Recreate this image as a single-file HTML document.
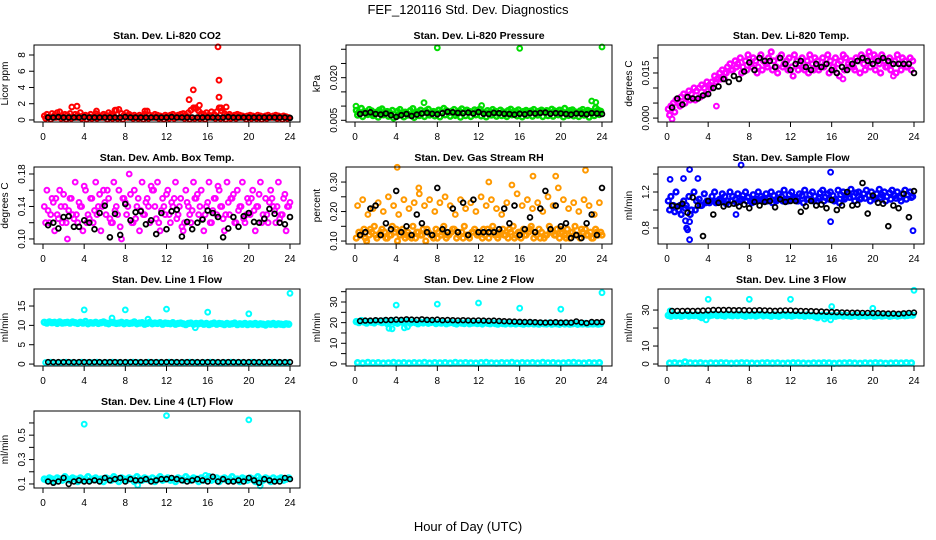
<!DOCTYPE html>
<html><head><meta charset="utf-8">
<style>
html,body{margin:0;padding:0;background:#fff;}
svg{display:block;font-family:"Liberation Sans",Arial,sans-serif;}
</style></head>
<body>
<svg id="chart" width="936" height="540" viewBox="0 0 936 540">
<text x="468" y="14" text-anchor="middle" font-size="13">FEF_120116  Std. Dev. Diagnostics</text>
<text x="468" y="531" text-anchor="middle" font-size="13">Hour of Day (UTC)</text>
</svg>
<script>
// ---------- data ----------
const hourTicks = [0,4,8,12,16,20,24];

const co2Red = [0.5,0.7,0.4,0.8,0.6,0.9,1.0,0.5,0.7,0.6,0.8,0.4,0.7,0.6,0.9,0.5,0.6,0.5,0.7,0.4,0.8,0.6,0.5,0.7,0.6,0.9,0.7,0.5,1.2,1.3,0.8,0.6,0.9,0.7,0.5,0.6,0.4,0.6,0.5,0.7,1.1,0.6,0.5,0.7,0.6,0.5,0.4,0.6,0.5,0.6,0.7,0.5,0.6,0.7,0.8,0.6,0.9,1.2,1.5,1.4,1.1,0.8,0.7,0.9,0.6,1.0,0.7,1.0,1.5,1.1,0.8,0.6,0.7,0.5,0.6,0.7,0.6,0.5,0.4,0.5,0.6,0.5,0.4,0.6,0.5,0.4,0.5,0.6,0.4,0.5,0.6,0.5,0.4,0.5,0.4,0.3];
const co2RedLow = [0.2,0.1,0.3,0.2,0.1,0.2,0.3,0.2,0.1,0.2,0.2,0.3,0.1,0.2,0.2,0.1,0.3,0.2,0.2,0.1,0.2,0.3,0.2,0.1,0.2,0.2,0.3,0.2,0.1,0.2,0.2,0.1,0.3,0.2,0.2,0.1,0.2,0.2,0.3,0.1,0.2,0.2,0.1,0.2,0.3,0.2,0.1,0.2];
const co2OutHours = [2.8,3.3,14.2,14.6,14.8,15.2,17.0,17.1,17.1,17.3,17.8,5.2,7.0,9.9];
const co2OutVals = [1.6,1.7,2.5,3.7,1.5,1.8,9.0,4.9,2.8,1.5,1.6,1.1,1.2,1.1];
const co2Black = [0.3,0.3,0.35,0.3,0.3,0.3,0.3,0.35,0.3,0.3,0.3,0.3,0.3,0.3,0.3,0.35,0.3,0.3,0.3,0.3,0.3,0.3,0.3,0.3,0.35,0.3,0.3,0.3,0.3,0.3,0.3,0.3,0.3,0.3,0.3,0.35,0.3,0.3,0.3,0.3,0.3,0.3,0.3,0.3,0.3,0.3,0.3,0.25];

const presGreen = [0.0085,0.0078,0.0092,0.0081,0.0075,0.0088,0.0083,0.0072,0.0079,0.0086,0.0090,0.0074,0.0081,0.0077,0.0085,0.0070,0.0082,0.0088,0.0076,0.0079,0.0068,0.0084,0.0091,0.0073,0.0080,0.0086,0.0077,0.0083,0.0089,0.0075,0.0081,0.0078,0.0086,0.0079,0.0092,0.0084,0.0077,0.0082,0.0088,0.0075,0.0083,0.0090,0.0079,0.0086,0.0081,0.0077,0.0087,0.0083,0.0089,0.0080,0.0076,0.0084,0.0079,0.0088,0.0082,0.0075,0.0086,0.0080,0.0073,0.0084,0.0089,0.0078,0.0082,0.0087,0.0076,0.0081,0.0085,0.0079,0.0083,0.0088,0.0076,0.0082,0.0086,0.0080,0.0084,0.0077,0.0089,0.0083,0.0079,0.0086,0.0081,0.0092,0.0078,0.0084,0.0087,0.0080,0.0076,0.0083,0.0088,0.0079,0.0085,0.0081,0.0077,0.0094,0.0086,0.0082];
const presGreenLow = [0.0068,0.0063,0.0070,0.0066,0.0061,0.0069,0.0064,0.0058,0.0067,0.0062,0.0070,0.0060,0.0066,0.0063,0.0068,0.0065,0.0062,0.0069,0.0064,0.0067,0.0061,0.0066,0.0063,0.0069,0.0065,0.0062,0.0068,0.0064,0.0066,0.0063,0.0069,0.0065,0.0062,0.0067,0.0064,0.0068,0.0063,0.0066,0.0064,0.0069,0.0062,0.0067,0.0065,0.0063,0.0068,0.0061,0.0066,0.0070];
const presOutHours = [8.0,16.0,24.0,0.1,6.7,12.3,23.0,23.4];
const presOutVals = [0.0305,0.0303,0.0308,0.0100,0.0112,0.0102,0.0118,0.0113];
const presBlack = [0.0072,0.0075,0.0078,0.0072,0.0070,0.0074,0.0068,0.0062,0.0068,0.0072,0.0065,0.0070,0.0074,0.0076,0.0073,0.0071,0.0075,0.0080,0.0078,0.0076,0.0075,0.0077,0.0074,0.0079,0.0073,0.0072,0.0076,0.0075,0.0073,0.0072,0.0070,0.0073,0.0071,0.0075,0.0074,0.0076,0.0077,0.0073,0.0075,0.0074,0.0072,0.0070,0.0074,0.0073,0.0071,0.0075,0.0074,0.0072];

const tempMag = [0.003,0.004,0.005,0.006,0.005,0.007,0.008,0.007,0.009,0.008,0.010,0.009,0.010,0.011,0.010,0.012,0.011,0.012,0.014,0.013,0.015,0.016,0.015,0.017,0.018,0.016,0.019,0.018,0.020,0.017,0.019,0.021,0.018,0.020,0.019,0.017,0.021,0.019,0.018,0.020,0.022,0.019,0.017,0.020,0.021,0.018,0.019,0.020,0.017,0.021,0.019,0.018,0.020,0.016,0.019,0.021,0.018,0.020,0.019,0.017,0.020,0.018,0.021,0.019,0.017,0.020,0.018,0.019,0.021,0.020,0.018,0.019,0.017,0.020,0.019,0.021,0.018,0.020,0.022,0.019,0.021,0.020,0.018,0.021,0.019,0.017,0.020,0.018,0.019,0.021,0.018,0.020,0.019,0.017,0.020,0.019];
const tempMagLow = [0.001,0.002,0.004,0.005,0.006,0.006,0.007,0.008,0.010,0.012,0.013,0.015,0.016,0.017,0.015,0.016,0.017,0.015,0.016,0.017,0.016,0.015,0.017,0.016,0.014,0.016,0.017,0.015,0.016,0.016,0.017,0.015,0.016,0.014,0.016,0.017,0.016,0.015,0.016,0.017,0.016,0.015,0.017,0.016,0.015,0.016,0.017,0.016];
const tempOutHours = [0.5,4.8,5.6,17.1,22.0];
const tempOutVals = [-0.0003,0.004,0.013,0.013,0.014];
const tempBlack = [0.0035,0.0065,0.0045,0.007,0.0065,0.0065,0.0075,0.008,0.010,0.0105,0.013,0.012,0.014,0.013,0.0155,0.0185,0.016,0.020,0.019,0.019,0.017,0.020,0.018,0.016,0.018,0.019,0.017,0.016,0.018,0.017,0.018,0.016,0.015,0.017,0.016,0.018,0.019,0.020,0.019,0.018,0.019,0.020,0.019,0.018,0.018,0.018,0.018,0.015];

const ambMag = [0.14,0.16,0.12,0.15,0.11,0.13,0.16,0.12,0.14,0.10,0.15,0.13,0.17,0.12,0.14,0.11,0.16,0.13,0.15,0.12,0.17,0.14,0.11,0.16,0.13,0.15,0.12,0.17,0.14,0.16,0.10,0.15,0.13,0.18,0.12,0.16,0.14,0.11,0.17,0.13,0.15,0.12,0.16,0.14,0.17,0.11,0.15,0.13,0.16,0.12,0.14,0.17,0.13,0.15,0.11,0.16,0.14,0.12,0.17,0.15,0.13,0.16,0.11,0.14,0.17,0.12,0.15,0.13,0.16,0.14,0.11,0.17,0.13,0.15,0.12,0.16,0.14,0.17,0.12,0.15,0.13,0.16,0.11,0.14,0.17,0.13,0.15,0.12,0.16,0.14,0.12,0.17,0.13,0.15,0.11,0.14];
const ambMag2 = [0.12,0.13,0.15,0.14,0.12,0.15,0.13,0.14,0.12,0.15,0.13,0.14,0.16,0.12,0.13,0.15,0.14,0.12,0.15,0.13,0.14,0.16,0.12,0.14,0.13,0.15,0.14,0.12,0.13,0.15,0.14,0.13,0.12,0.15,0.14,0.13,0.15,0.12,0.14,0.13,0.15,0.14,0.12,0.13,0.15,0.14,0.13,0.14];
const ambMag3 = [0.135,0.145,0.125,0.155,0.135,0.125,0.145,0.165,0.125,0.135,0.155,0.145,0.125,0.135,0.115,0.145,0.155,0.125,0.135,0.145,0.165,0.125,0.135,0.155,0.145,0.125,0.115,0.145,0.135,0.155,0.125,0.145,0.135,0.165,0.125,0.145,0.155,0.135,0.125,0.145,0.135,0.155,0.125,0.145,0.135,0.125,0.155,0.145];
const ambBlack = [0.117,0.120,0.113,0.127,0.128,0.115,0.115,0.123,0.120,0.112,0.132,0.141,0.102,0.131,0.105,0.143,0.123,0.133,0.134,0.118,0.123,0.106,0.132,0.112,0.134,0.136,0.103,0.121,0.112,0.120,0.124,0.135,0.132,0.127,0.102,0.113,0.127,0.115,0.128,0.132,0.121,0.120,0.125,0.137,0.131,0.120,0.118,0.127];

const rhLow = [0.11,0.13,0.12,0.14,0.10,0.12,0.13,0.15,0.11,0.12,0.14,0.13,0.11,0.12,0.15,0.13,0.10,0.12,0.14,0.11,0.13,0.12,0.15,0.11,0.13,0.12,0.14,0.10,0.13,0.12,0.11,0.14,0.13,0.12,0.15,0.11,0.12,0.13,0.14,0.11,0.12,0.13,0.15,0.12,0.11,0.13,0.14,0.12,0.13,0.11,0.12,0.14,0.13,0.15,0.12,0.11,0.13,0.14,0.12,0.11,0.13,0.15,0.12,0.13,0.11,0.14,0.12,0.13,0.15,0.11,0.12,0.14,0.13,0.11,0.12,0.15,0.13,0.12,0.14,0.11,0.13,0.12,0.14,0.11,0.13,0.15,0.12,0.11,0.13,0.14,0.12,0.13,0.11,0.14,0.12,0.13];
const rhLow2 = [0.12,0.11,0.14,0.12,0.13,0.11,0.12,0.14,0.13,0.12,0.11,0.13,0.12,0.14,0.12,0.11,0.13,0.12,0.14,0.13,0.11,0.12,0.13,0.12,0.14,0.11,0.13,0.12,0.12,0.14,0.11,0.13,0.12,0.14,0.13,0.11,0.12,0.13,0.12,0.14,0.11,0.13,0.12,0.14,0.12,0.11,0.13,0.12];
const rhHigh = [0.22,0.24,0.19,0.21,0.23,0.20,0.25,0.22,0.19,0.24,0.21,0.23,0.26,0.22,0.24,0.20,0.23,0.25,0.22,0.19,0.24,0.21,0.23,0.20,0.25,0.22,0.24,0.21,0.19,0.23,0.29,0.26,0.22,0.24,0.21,0.23,0.20,0.25,0.22,0.28,0.24,0.21,0.23,0.20,0.24,0.22,0.19,0.23];
const rhOutHours = [4.1,17.3,22.4,19.5,6.2,13.0];
const rhOutVals = [0.35,0.32,0.34,0.32,0.28,0.30];
const rhBlack = [0.12,0.13,0.21,0.22,0.12,0.16,0.14,0.27,0.13,0.15,0.12,0.19,0.16,0.13,0.12,0.28,0.14,0.13,0.21,0.13,0.23,0.12,0.24,0.13,0.13,0.13,0.13,0.14,0.21,0.16,0.22,0.12,0.14,0.18,0.13,0.21,0.27,0.14,0.22,0.15,0.16,0.11,0.12,0.11,0.16,0.19,0.12,0.28];

const flowBlue = [1.1,1.15,1.05,1.2,1.0,0.95,1.1,1.05,1.15,1.0,1.2,1.1,1.12,1.05,1.18,1.1,1.08,1.15,1.2,1.1,1.12,1.18,1.15,1.1,1.2,1.15,1.12,1.18,1.1,1.16,1.2,1.14,1.1,1.17,1.12,1.2,1.15,1.1,1.18,1.13,1.2,1.16,1.1,1.18,1.15,1.22,1.12,1.17,1.2,1.14,1.1,1.18,1.16,1.22,1.12,1.17,1.2,1.15,1.1,1.19,1.22,1.14,1.18,1.2,1.16,1.12,1.22,1.17,1.2,1.14,1.18,1.23,1.15,1.19,1.2,1.13,1.18,1.22,1.16,1.2,1.14,1.18,1.23,1.17,1.2,1.15,1.19,1.22,1.16,1.2,1.14,1.18,1.22,1.17,1.2,1.15];
const flowBlueLow = [1.0,0.98,1.05,1.02,0.95,1.0,1.05,1.08,1.1,1.08,1.1,1.07,1.1,1.08,1.12,1.1,1.08,1.1,1.12,1.1,1.08,1.12,1.1,1.1,1.12,1.1,1.08,1.12,1.1,1.13,1.1,1.12,1.1,1.08,1.12,1.14,1.1,1.12,1.13,1.1,1.12,1.14,1.1,1.12,1.13,1.1,1.12,1.14];
const flowOutHours = [2.2,2.0,1.9,2.2,7.2,0.3,1.6,3.0,15.9,15.9,23.9,1.8,2.2,6.7];
const flowOutVals = [0.67,0.78,0.8,1.45,1.5,1.34,1.35,1.35,1.42,0.87,0.77,0.88,0.87,0.95];
const flowBlack = [1.05,1.04,1.07,0.97,1.14,1.05,0.71,1.1,0.95,1.08,1.04,1.06,1.07,1.04,1.06,1.02,1.09,1.05,1.09,1.1,1.03,1.12,1.09,1.1,1.1,0.98,1.04,1.1,1.05,1.06,1.02,1.11,1.0,1.05,1.2,1.05,1.06,1.3,0.96,1.16,1.08,1.07,0.82,1.05,1.02,1.18,0.92,1.21];

const l1High = [10.8,10.6,10.9,10.7,10.8,10.5,10.9,10.6,10.7,10.8,10.6,10.9,10.7,10.5,10.8,10.6,11.0,10.4,10.7,10.6,10.8,10.5,10.7,10.9,10.6,10.4,10.8,10.7,10.5,10.6,10.8,10.4,10.7,10.5,10.6,10.9,10.4,10.6,10.7,10.3,10.5,10.8,10.4,10.6,10.5,10.7,10.3,10.6,10.5,10.4,10.7,10.3,10.5,10.6,10.4,10.2,10.5,10.6,10.3,10.5,10.4,10.6,10.3,10.5,10.2,10.4,10.6,10.3,10.5,10.4,10.2,10.5,10.3,10.4,10.6,10.2,10.4,10.3,10.5,10.2,10.4,10.3,10.5,10.2,10.4,10.3,10.1,10.4,10.3,10.5,10.2,10.4,10.3,10.2,10.4,10.3];
const l1Low = [0.4,0.5,0.3,0.4,0.5,0.4,0.3,0.5,0.4,0.4,0.5,0.3,0.4,0.5,0.4,0.3,0.4,0.5,0.4,0.3,0.5,0.4,0.4,0.3,0.5,0.4,0.3,0.4,0.5,0.4,0.3,0.4,0.5,0.4,0.3,0.4,0.5,0.4,0.4,0.3,0.5,0.4,0.3,0.4,0.5,0.4,0.3,0.4];
const l1OutHours = [4.0,8.0,12.0,16.0,20.0,24.0,6.7,10.2,14.8];
const l1OutVals = [14.0,14.0,14.2,13.4,13.0,18.3,11.9,11.6,9.4];
const l1Black = [0.5,0.5,0.5,0.5,0.5,0.5,0.5,0.5,0.5,0.5,0.5,0.5,0.5,0.5,0.5,0.5,0.5,0.5,0.5,0.5,0.5,0.5,0.5,0.5,0.5,0.5,0.5,0.5,0.5,0.5,0.5,0.5,0.5,0.5,0.5,0.5,0.5,0.5,0.5,0.5,0.5,0.5,0.5,0.5,0.5,0.5,0.5,0.5];

const l2High = [20.5,20.0,21.0,20.3,19.8,20.6,20.2,19.9,20.7,20.4,20.0,20.8,19.6,20.3,20.9,20.1,19.7,20.5,20.2,20.0,20.6,19.8,20.3,20.0,19.5,20.2,19.9,20.4,19.7,20.1,20.3,19.6,20.0,19.8,20.2,19.5,19.9,20.1,19.7,19.4,20.0,19.8,19.6,20.1,19.5,19.8,19.9,19.6,19.8,19.4,20.0,19.7,19.5,19.9,19.6,19.3,19.8,19.6,19.4,19.9,19.5,19.7,19.4,19.8,19.6,19.3,19.7,19.5,19.8,19.4,19.6,19.3,19.7,19.5,19.4,19.8,19.3,19.6,19.5,19.2,19.7,19.4,19.6,19.3,19.5,19.7,19.2,19.5,19.4,19.6,19.3,19.5,19.4,19.6,19.3,19.5];
const l2Low = [0.6,0.4,0.7,0.5,0.6,0.4,0.5,0.7,0.5,0.6,0.4,0.6,0.5,0.7,0.4,0.6,0.5,0.6,0.4,0.7,0.5,0.6,0.5,0.4,0.6,0.7,0.5,0.4,0.6,0.5,0.7,0.4,0.6,0.5,0.6,0.4,0.7,0.5,0.6,0.4,0.5,0.6,0.7,0.5,0.4,0.6,0.5,0.6];
const l2OutHours = [4.0,8.0,12.0,16.0,20.0,24.0,3.3,3.6,4.8,5.1];
const l2OutVals = [28.5,29.0,29.5,27.0,26.5,34.5,17.2,17.0,17.5,18.0];
const l2Black = [20.8,21.0,21.0,21.2,21.1,21.3,21.3,21.5,21.4,21.6,21.5,21.4,21.6,21.4,21.3,21.5,21.2,21.3,21.2,21.1,21.2,21.1,21.0,21.1,21.0,20.9,21.0,20.8,20.7,20.6,20.5,20.4,20.3,20.3,20.2,20.1,20.0,20.1,20.2,20.0,20.1,20.0,20.6,20.1,19.8,20.3,20.2,20.3];

const l3High = [27.0,26.5,27.5,26.8,27.2,26.6,27.0,27.4,26.7,27.1,26.9,27.3,26.5,25.8,27.0,27.4,26.8,27.2,27.6,26.9,27.3,27.0,26.7,27.5,27.1,26.8,27.3,26.9,27.6,27.0,26.6,27.2,26.9,27.4,26.7,27.1,27.5,26.8,27.2,27.0,26.6,27.3,26.9,26.5,27.2,27.4,26.8,27.1,26.7,27.0,27.3,26.9,27.1,26.6,27.2,26.8,27.0,26.4,25.8,26.9,27.2,26.7,27.0,26.8,27.1,26.6,26.9,27.2,26.7,27.0,26.8,26.5,26.9,27.1,26.6,26.9,27.0,26.7,26.9,27.1,26.6,26.8,27.0,26.7,26.9,27.1,26.6,26.8,27.0,26.7,26.9,27.2,26.8,27.0,27.3,27.1];
const l3Low = [0.5,0.7,0.4,1.2,0.6,0.5,0.7,0.4,0.6,0.5,0.7,0.6,0.4,0.5,0.7,0.6,0.5,0.4,0.6,0.7,0.5,0.6,0.4,0.5,0.7,0.6,0.5,0.4,0.6,0.5,0.7,0.6,0.4,0.5,0.6,0.7,0.5,0.4,0.6,0.5,0.7,0.6,0.4,0.5,0.6,0.5,0.7,0.6];
const l3OutHours = [4.0,8.0,12.0,16.0,20.0,24.0,0.3,3.8,15.3,15.9];
const l3OutVals = [36.0,36.0,36.0,32.0,31.0,41.0,29.5,24.5,25.0,24.5];
const l3Black = [29.5,29.5,29.5,29.6,29.5,29.6,29.7,29.8,30.0,30.0,30.0,30.0,29.9,29.9,29.9,29.8,29.8,29.9,29.8,29.7,29.6,29.7,29.8,29.8,29.6,29.5,29.4,29.4,29.3,29.2,29.0,28.9,28.8,28.7,28.6,28.5,28.5,28.4,28.4,28.3,28.3,28.2,28.0,28.1,27.9,28.2,28.4,28.6];

const l4Cyan = [0.14,0.13,0.15,0.14,0.12,0.15,0.14,0.13,0.16,0.14,0.13,0.15,0.14,0.12,0.15,0.13,0.14,0.16,0.13,0.14,0.15,0.13,0.14,0.12,0.15,0.14,0.13,0.16,0.14,0.12,0.15,0.14,0.13,0.15,0.14,0.12,0.16,0.14,0.13,0.15,0.14,0.13,0.15,0.12,0.14,0.16,0.13,0.14,0.15,0.13,0.14,0.12,0.15,0.14,0.13,0.16,0.14,0.13,0.15,0.14,0.12,0.15,0.13,0.14,0.16,0.13,0.14,0.15,0.12,0.14,0.15,0.13,0.14,0.16,0.13,0.14,0.12,0.15,0.14,0.13,0.15,0.14,0.12,0.16,0.14,0.13,0.15,0.14,0.12,0.15,0.13,0.14,0.15,0.13,0.14,0.15];
const l4OutHours = [4.0,12.0,20.0,9.2,21.1,15.8];
const l4OutVals = [0.59,0.66,0.625,0.09,0.085,0.17];
const l4Black = [0.12,0.11,0.12,0.15,0.10,0.12,0.13,0.12,0.12,0.13,0.12,0.15,0.13,0.14,0.15,0.12,0.14,0.13,0.13,0.14,0.12,0.13,0.14,0.14,0.15,0.14,0.13,0.12,0.13,0.14,0.13,0.12,0.16,0.12,0.14,0.12,0.12,0.13,0.12,0.15,0.13,0.11,0.14,0.13,0.12,0.12,0.15,0.14];

// ---------- drawing ----------
const NS = 'http://www.w3.org/2000/svg';
const svg = document.getElementById('chart');
function mk(tag, attrs, parent){
  const e = document.createElementNS(NS, tag);
  for (const k in attrs) e.setAttribute(k, attrs[k]);
  (parent || svg).appendChild(e);
  return e;
}
function gridHours(n){ const a=[]; for(let i=0;i<n;i++) a.push(24*(i+0.5)/n); return a; }
function halfHours(n){ const a=[]; for(let i=0;i<n;i++) a.push(0.5*(i+1)); return a; }

function panel(p){
  const bx = 34 + 312*p.col, by = 45 + 122*p.row, bw = 266, bh = 77;
  const g = mk('g', {});
  
  
  const xs = h => bx + 9 + h*(247/24);
  const ys = v => by + (p.ymax - v)/(p.ymax - p.ymin)*bh;
  const t = mk('text', {x: bx+bw/2, y: by-6, 'text-anchor':'middle', 'font-size':'10.5', 'font-weight':'bold'}, g);
  t.textContent = p.title;
  
  
  p.series.forEach(s => {
    const sg = mk('g', {fill:'none', stroke:s.color, 'stroke-width': s.sw || 2}, g);
    
    
    s.vals.forEach((v,i) => {
      const c = mk('circle', {cx: xs(s.hours[i]).toFixed(1), cy: ys(v).toFixed(1), r: 2.4}, sg);
      
      
    });
  });
  const box = mk('rect', {x:bx, y:by, width:bw, height:bh, fill:'none', stroke:'#000', 'stroke-width':1}, g);
  
  
  const xa = mk('g', {}, g);
  
  
  hourTicks.forEach(h => {
    mk('line', {x1:xs(h), x2:xs(h), y1:by+bh, y2:by+bh+5, stroke:'#000'}, xa);
    const tl = mk('text', {x:xs(h), y:by+bh+18, 'text-anchor':'middle', 'font-size':'10'}, xa);
    tl.textContent = h;
    
    
  });
  const ya = mk('g', {}, g);
  
  
  mk('line', {x1:bx, x2:bx, y1:ys(p.ticks[0]), y2:ys(p.ticks[p.ticks.length-1]), stroke:'#000'}, ya);
  p.ticks.forEach(v => {
    mk('line', {x1:bx-5, x2:bx, y1:ys(v), y2:ys(v), stroke:'#000'}, ya);
  });
  p.labels.forEach(v => {
    const yy = ys(v), xx = bx-9;
    const tl = mk('text', {x:xx, y:yy, 'text-anchor':'middle', 'font-size':'10', transform:`rotate(-90 ${xx} ${yy})`}, ya);
    tl.textContent = p.fmt ? v.toFixed(p.fmt) : v;
    
    
  });
  const yl = bx-26, ym = by+bh/2;
  const yt = mk('text', {x:yl, y:ym, 'text-anchor':'middle', 'font-size':'10', transform:`rotate(-90 ${yl} ${ym})`}, ya);
  yt.textContent = p.ylab;
  
  
}

const H96 = gridHours(96), H48 = gridHours(48), B48 = halfHours(48);
const RED='#ff0000', GRN='#00dd00', MAG='#ff00ff', BLU='#0000ff', ORG='#ff9900', CYN='#00ffff', BLK='#000000';

panel({row:0,col:0,name:'panel-co2',title:'Stan. Dev. Li-820 CO2',ylab:'Licor ppm',ymin:-0.25,ymax:9.23,ticks:[0,2,4,6,8],labels:[0,2,4,6,8],
  series:[{name:'co2-series',color:RED,hours:H96,vals:co2Red},{name:'co2-series-low',color:RED,hours:H48,vals:co2RedLow},{name:'co2-outliers',color:RED,hours:co2OutHours,vals:co2OutVals},{name:'co2-half-hour',color:BLK,hours:B48,vals:co2Black,sw:1.8}]});
panel({row:0,col:1,name:'panel-pressure',title:'Stan. Dev. Li-820 Pressure',ylab:'kPa',ymin:0.0044,ymax:0.0315,fmt:3,ticks:[0.005,0.010,0.015,0.020,0.025,0.030],labels:[0.005,0.020],
  series:[{name:'pressure-series',color:GRN,hours:H96,vals:presGreen,sw:2.4},{name:'pressure-series-low',color:GRN,hours:H48,vals:presGreenLow,sw:2.4},{name:'pressure-outliers',color:GRN,hours:presOutHours,vals:presOutVals},{name:'pressure-half-hour',color:BLK,hours:B48,vals:presBlack,sw:1.8}]});
panel({row:0,col:2,name:'panel-temp',title:'Stan. Dev. Li-820 Temp.',ylab:'degrees C',ymin:-0.0013,ymax:0.0243,fmt:3,ticks:[0,0.005,0.010,0.015,0.020],labels:[0,0.015],
  series:[{name:'temp-series',color:MAG,hours:H96,vals:tempMag,sw:2.4},{name:'temp-series-low',color:MAG,hours:H48,vals:tempMagLow,sw:2.4},{name:'temp-outliers',color:MAG,hours:tempOutHours,vals:tempOutVals},{name:'temp-half-hour',color:BLK,hours:B48,vals:tempBlack,sw:1.8}]});
panel({row:1,col:0,name:'panel-amb-box-temp',title:'Stan. Dev. Amb. Box Temp.',ylab:'degrees C',ymin:0.0938,ymax:0.1886,fmt:2,ticks:[0.10,0.12,0.14,0.16,0.18],labels:[0.10,0.14,0.18],
  series:[{name:'amb-series',color:MAG,hours:H96,vals:ambMag},{name:'amb-series-2',color:MAG,hours:H48,vals:ambMag2},{name:'amb-series-3',color:MAG,hours:B48,vals:ambMag3},{name:'amb-half-hour',color:BLK,hours:B48,vals:ambBlack,sw:1.8}]});
panel({row:1,col:1,name:'panel-gas-rh',title:'Stan. Dev. Gas Stream RH',ylab:'percent',ymin:0.090,ymax:0.351,fmt:2,ticks:[0.10,0.15,0.20,0.25,0.30],labels:[0.10,0.20,0.30],
  series:[{name:'rh-low-series',color:ORG,hours:H96,vals:rhLow,sw:2.4},{name:'rh-low-series-2',color:ORG,hours:B48,vals:rhLow2,sw:2.4},{name:'rh-high-series',color:ORG,hours:H48,vals:rhHigh},{name:'rh-outliers',color:ORG,hours:rhOutHours,vals:rhOutVals},{name:'rh-half-hour',color:BLK,hours:B48,vals:rhBlack,sw:1.8}]});
panel({row:1,col:2,name:'panel-sample-flow',title:'Stan. Dev. Sample Flow',ylab:'ml/min',ymin:0.622,ymax:1.478,fmt:1,ticks:[0.8,1.0,1.2,1.4],labels:[0.8,1.2],
  series:[{name:'flow-series',color:BLU,hours:H96,vals:flowBlue,sw:2.4},{name:'flow-series-low',color:BLU,hours:H48,vals:flowBlueLow,sw:2.4},{name:'flow-outliers',color:BLU,hours:flowOutHours,vals:flowOutVals},{name:'flow-half-hour',color:BLK,hours:B48,vals:flowBlack,sw:1.8}]});
panel({row:2,col:0,name:'panel-line1',title:'Stan. Dev. Line 1 Flow',ylab:'ml/min',ymin:-0.5,ymax:19.4,ticks:[0,5,10,15],labels:[0,5,10,15],
  series:[{name:'line1-high',color:CYN,hours:H96,vals:l1High,sw:2.6},{name:'line1-low',color:CYN,hours:H48,vals:l1Low},{name:'line1-outliers',color:CYN,hours:l1OutHours,vals:l1OutVals},{name:'line1-half-hour',color:BLK,hours:B48,vals:l1Black,sw:1.6}]});
panel({row:2,col:1,name:'panel-line2',title:'Stan. Dev. Line 2 Flow',ylab:'ml/min',ymin:-1,ymax:36.3,ticks:[0,5,10,15,20,25,30,35],labels:[0,10,20,30],
  series:[{name:'line2-high',color:CYN,hours:H96,vals:l2High,sw:2.6},{name:'line2-low',color:CYN,hours:H48,vals:l2Low,sw:2.6},{name:'line2-outliers',color:CYN,hours:l2OutHours,vals:l2OutVals},{name:'line2-half-hour',color:BLK,hours:B48,vals:l2Black,sw:1.6}]});
panel({row:2,col:2,name:'panel-line3',title:'Stan. Dev. Line 3 Flow',ylab:'ml/min',ymin:-1.1,ymax:41.7,ticks:[0,10,20,30],labels:[0,10,30],
  series:[{name:'line3-high',color:CYN,hours:H96,vals:l3High,sw:2.6},{name:'line3-low',color:CYN,hours:H48,vals:l3Low,sw:2.6},{name:'line3-outliers',color:CYN,hours:l3OutHours,vals:l3OutVals},{name:'line3-half-hour',color:BLK,hours:B48,vals:l3Black,sw:1.6}]});
panel({row:3,col:0,name:'panel-line4',title:'Stan. Dev. Line 4 (LT) Flow',ylab:'ml/min',ymin:0.067,ymax:0.698,fmt:1,ticks:[0.1,0.2,0.3,0.4,0.5,0.6],labels:[0.1,0.3,0.5],
  series:[{name:'line4-series',color:CYN,hours:H96,vals:l4Cyan,sw:2.6},{name:'line4-outliers',color:CYN,hours:l4OutHours,vals:l4OutVals},{name:'line4-half-hour',color:BLK,hours:B48,vals:l4Black,sw:1.6}]});
</script>
</body></html>
